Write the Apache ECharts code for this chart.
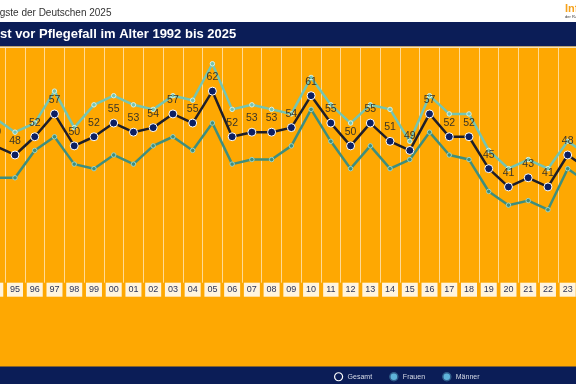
<!DOCTYPE html>
<html>
<head>
<meta charset="utf-8">
<script src="https://cdn.jsdelivr.net/npm/echarts@6/dist/echarts.min.js"></script>
<style>html,body{margin:0;padding:0;background:#fff}#c{width:576px;height:384px}</style>
</head>
<body>
<div id="c"></div>
<script>
const years = ['94','95','96','97','98','99','00','01','02','03','04','05','06','07','08','09','10','11','12','13','14','15','16','17','18','19','20','21','22','23','24'];
const gesamt = [50,48,52,57,50,52,55,53,54,57,55,62,52,53,53,54,61,55,50,55,51,49,57,52,52,45,41,43,41,48,45];
const frauen = [56,53,55,62,54,59,61,59,58,61,60,68,58,59,58,57,65,59,55,59,58,51,61,57,57,49,45,47,45,51,48];
const maenner = [43,43,49,52,46,45,48,46,50,52,49,55,46,47,47,50,58,51,45,50,45,47,53,48,47,40,37,38,36,45,42];

const FONT = 'Liberation Sans, Arial, sans-serif';
const ORANGE = '#FEA802';
const NAVY = '#0B1D57';

const chart = echarts.init(document.getElementById('c'), null, {renderer: 'canvas'});
chart.setOption({
  animation: false,
  backgroundColor: ORANGE,
  textStyle: {fontFamily: FONT},
  graphic: [
    {type: 'rect', z: 50, shape: {x: 0, y: 0, width: 576, height: 22}, style: {fill: '#ffffff'}},
    {type: 'rect', z: 50, shape: {x: 0, y: 22, width: 576, height: 24.5}, style: {fill: NAVY}},
    {type: 'rect', z: 50, shape: {x: 0, y: 46.5, width: 576, height: 1.5}, style: {fill: '#F6E3B8'}},
    {type: 'rect', z: 50, shape: {x: 0, y: 366.5, width: 576, height: 17.5}, style: {fill: NAVY}},
    {type: 'text', z: 60, left: 565, top: 3, style: {text: 'Infocenter', fill: '#F5A21C', font: 'bold 11px ' + FONT}},
    {type: 'text', z: 60, left: 565, top: 15, style: {text: 'der R+V Versicherung', fill: '#333', font: '4px ' + FONT}}
  ],
  title: [
    {text: 'Ängste der Deutschen 2025', left: -12.5, top: 8, z: 100, padding: 0,
     textStyle: {fontSize: 10, fontWeight: 'normal', color: '#333', fontFamily: FONT}},
    {text: 'Angst vor Pflegefall im Alter 1992 bis 2025', left: -25.3, top: 28, z: 100, padding: 0,
     textStyle: {fontSize: 13, fontWeight: 'bold', color: '#ffffff', fontFamily: FONT}}
  ],
  legend: {
    z: 100,
    left: 334, top: 372,
    padding: 0,
    itemWidth: 8, itemHeight: 8, itemGap: 17,
    icon: 'circle',
    textStyle: {color: '#d8dce8', fontSize: 7, fontFamily: FONT, padding: [0, 0, 0, 0]},
    data: [
      {name: 'Gesamt', itemStyle: {color: 'transparent', borderColor: '#ffffff', borderWidth: 1.2}},
      {name: 'Frauen', itemStyle: {color: '#5FB3DA', borderColor: '#2F5C8A', borderWidth: 1.5}},
      {name: 'Männer', itemStyle: {color: '#5FB3DA', borderColor: '#2F5C8A', borderWidth: 1.5}}
    ]
  },
  grid: {left: -14.6, width: 611.9, top: 47.8, height: 234.9, containLabel: false, outerBoundsMode: 'none'},
  xAxis: {
    type: 'category',
    data: years,
    boundaryGap: true,
    axisLine: {show: false},
    axisTick: {show: false},
    splitLine: {show: true, lineStyle: {color: 'rgba(255,240,210,0.7)', width: 1}},
    axisLabel: {
      interval: 0, margin: 0,
      fontSize: 9, color: '#2B3358', fontFamily: FONT,
      backgroundColor: '#FFF4DE', padding: [2, 3, 2, 3], lineHeight: 10
    }
  },
  yAxis: {type: 'value', min: 20, max: 71.5, show: false, splitLine: {show: false}},
  series: [
    {
      name: 'Männer', type: 'line', data: maenner, z: 3,
      lineStyle: {color: '#3E8E7E', width: 2.5},
      symbol: 'circle', symbolSize: 4.5,
      itemStyle: {color: '#3E8E7E', borderColor: '#9DD3C6', borderWidth: 1}
    },
    {
      name: 'Frauen', type: 'line', data: frauen, z: 4,
      lineStyle: {color: '#74C5B2', width: 2.5},
      symbol: 'circle', symbolSize: 4.5,
      itemStyle: {color: '#74C5B2', borderColor: '#D7F0E8', borderWidth: 1}
    },
    {
      name: 'Gesamt', type: 'line', data: gesamt, z: 5,
      lineStyle: {color: '#1E1E2A', width: 2.5},
      symbol: 'circle', symbolSize: 8,
      itemStyle: {color: '#0C1F63', borderColor: '#ffffff', borderWidth: 1},
      label: {show: true, position: 'top', distance: 4, fontSize: 10.5, color: '#3A3428', fontFamily: FONT}
    }
  ]
});
</script>
</body>
</html>
